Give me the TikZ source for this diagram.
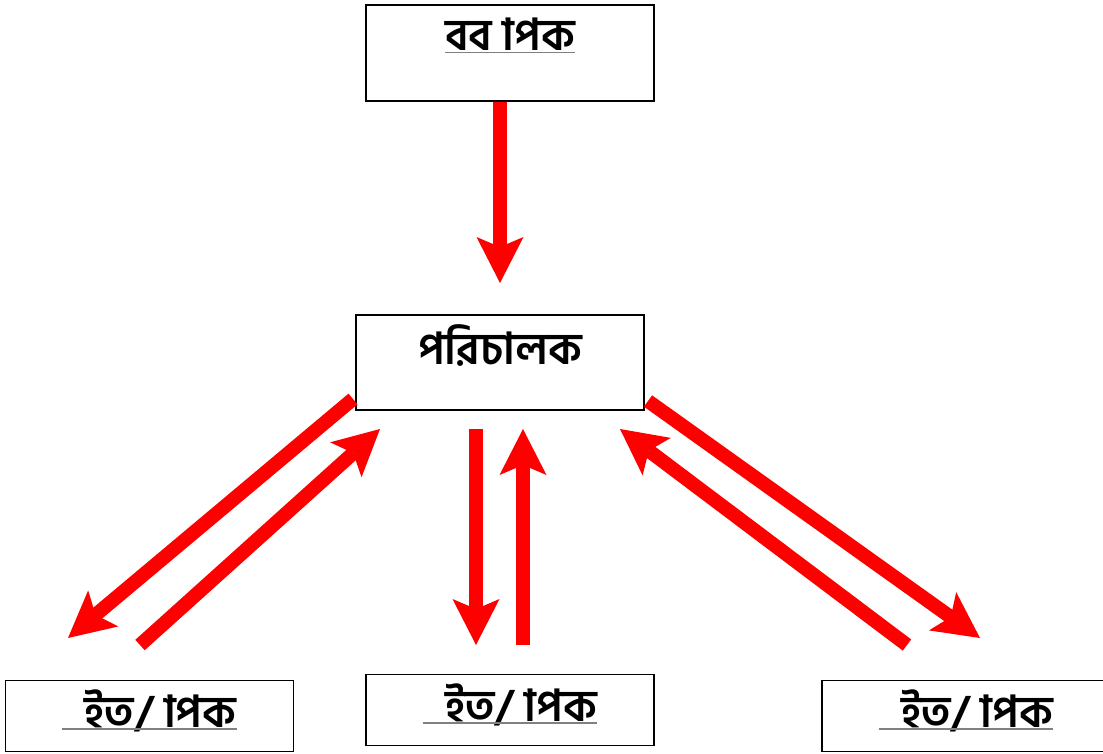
\documentclass[tikz,border=0pt]{standalone}
\usepackage{fontspec}
\newfontfamily\bnfont[Script=Bengali]{Hind Siliguri}
\usetikzlibrary{arrows.meta}
\usetikzlibrary{positioning}

\begin{document}
\begin{tikzpicture}[x=1pt,y=-1pt]
\tikzstyle{box node}=[rectangle,draw,line width=1.5pt,inner sep=0]
\tikzstyle{wide box}=[box node,minimum width=288pt,minimum height=96pt]
\tikzstyle{low box}=[box node,minimum width=288pt,minimum height=71pt]
\tikzset{
  title node/.style = {font=\bnfont\bfseries\fontsize{44}{44}\selectfont,inner xsep=0pt,inner ysep=1.5pt,text depth=0pt},
  uline node/.style = {title node,append after command={(\tikzlastnode.south west) edge[draw=gray,line width=1.5pt] (\tikzlastnode.south east)}},
  red arrow/.style = {draw=red,line width=14pt,-{Stealth[length=46pt,width=47pt,inset=10pt,line width=0pt,fill=red]}}
}
\useasboundingbox (0,0) rectangle (1103,753);

    \node[wide box]  (mgr)   at (510,53)    {};
    \node[wide box,minimum height=95pt]  (dir)   at (500,362.5) {};
    \node[low box]   (wl)    at (149.5,716) {};
    \node[low box]   (wm)    at (510,710)   {};
    \node[low box]   (wr)    at (966,716)   {};
    %%%%%%%%%%%%%%%%%%%%%%%%%%%%%%%%%%
    \node[uline node] (mgrt) [below=12pt of mgr.north] {বব\char"00A0 াপক};
    \node[title node] (dirt) [below=9pt of dir.north]  {পরিচালক};
    \node[uline node] (wlt)  [below=8pt of wl.north]   {\hspace{22pt}ইত/\char"00A0 াপক};
    \node[uline node] (wmt)  [below=8pt of wm.north]   {\hspace{22pt}ইত/\char"00A0 াপক};
    \node[uline node] (wrt)  [below=8pt of wr.north]   {\hspace{22pt}ইত/\char"00A0 াপক};
    %%%%%%%%%%%%%%%%%%%%%%%%%%%%%%%%%%
    \coordinate (a0s) at ([xshift=-10pt]mgr.south);
    \coordinate (a0e) at (500,283);
    \coordinate (l1s) at (353,399);
    \coordinate (l1e) at (68,638);
    \coordinate (l2s) at (140,645);
    \coordinate (l2e) at (380,429);
    \coordinate (m1s) at (476,429);
    \coordinate (m1e) at (476,645);
    \coordinate (m2s) at (523,645);
    \coordinate (m2e) at (523,429);
    \coordinate (r1s) at (648,401);
    \coordinate (r1e) at (980,638);
    \coordinate (r2s) at (907,645);
    \coordinate (r2e) at (620,429);

    \path
        (a0s) edge[red arrow] (a0e)
        (l1s) edge[red arrow] (l1e)
        (l2s) edge[red arrow] (l2e)
        (m1s) edge[red arrow] (m1e)
        (m2s) edge[red arrow] (m2e)
        (r1s) edge[red arrow] (r1e)
        (r2s) edge[red arrow] (r2e)
;
\end{tikzpicture}
\end{document}
